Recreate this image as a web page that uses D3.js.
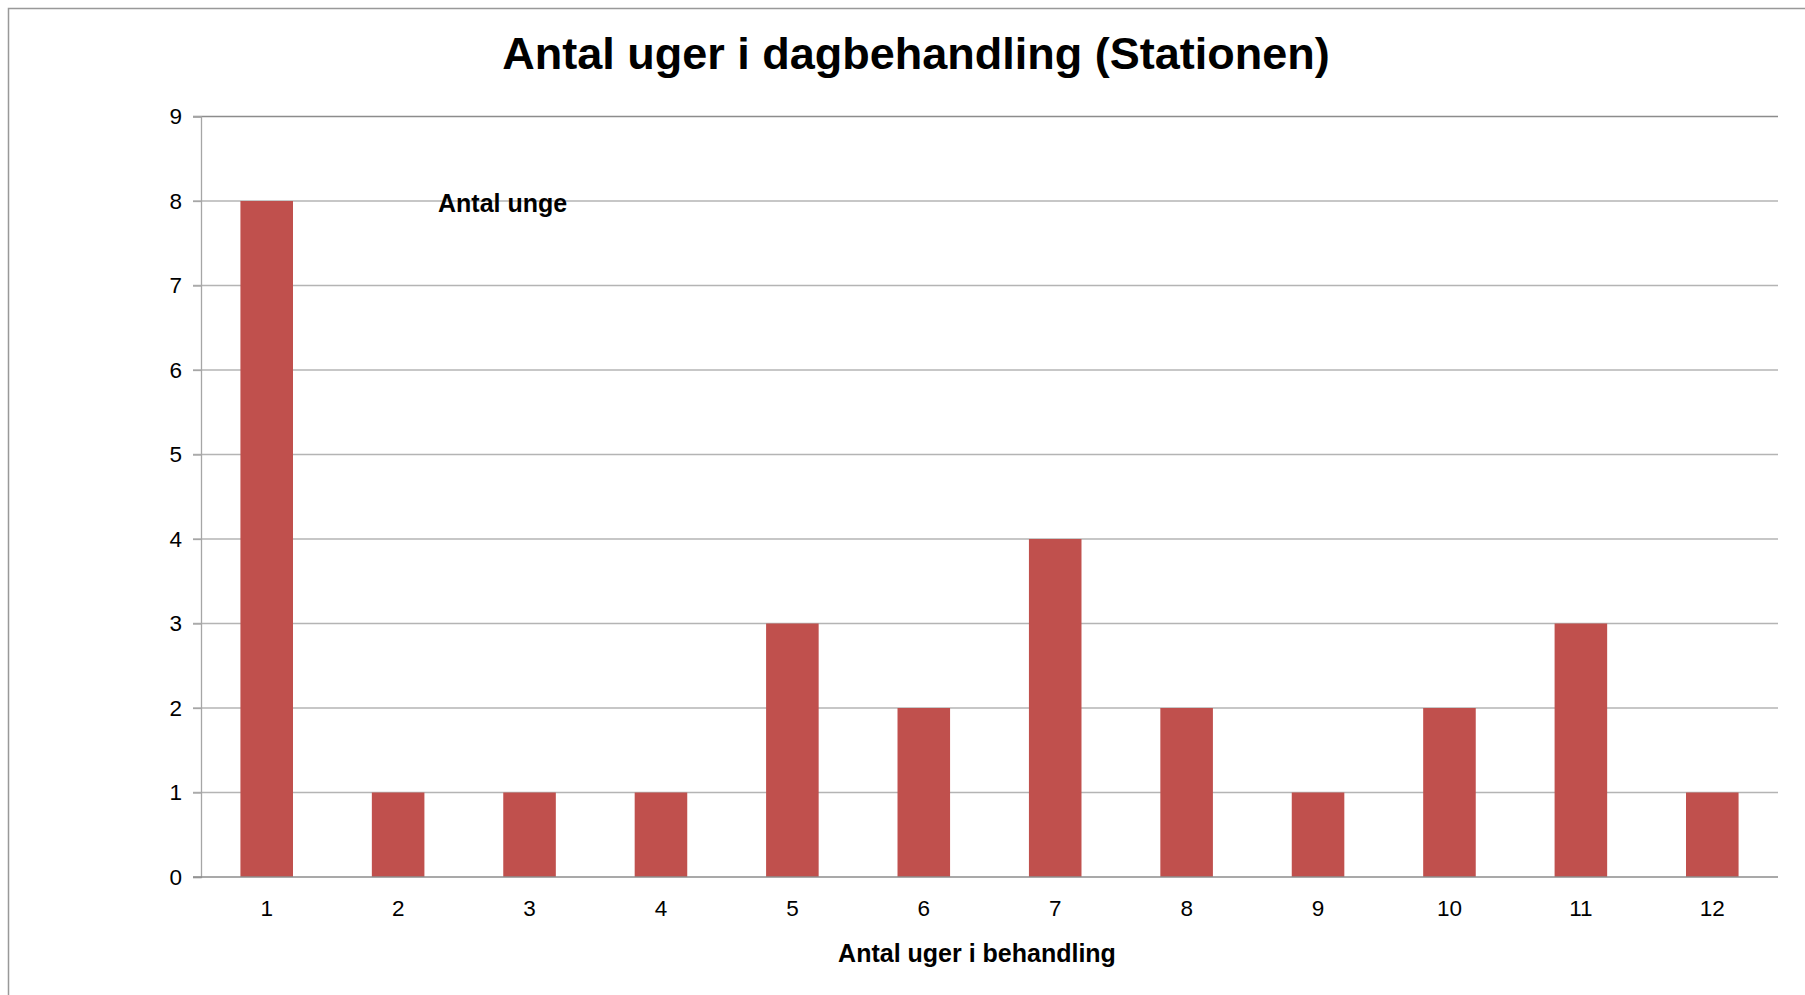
<!DOCTYPE html>
<html>
<head>
<meta charset="utf-8">
<title>Antal uger i dagbehandling</title>
<style>
  body { margin: 0; background: #fff; }
  text { font-family: "Liberation Sans", Arial, sans-serif; fill: #000; }
</style>
</head>
<body>
<script src="https://d3js.org/d3.v7.min.js"></script>
<script>
// data
var weeks = ["1", "2", "3", "4", "5", "6", "7", "8", "9", "10", "11", "12"];
var antalUnge = [8, 1, 1, 1, 3, 2, 4, 2, 1, 2, 3, 1];
var yTicks = [0, 1, 2, 3, 4, 5, 6, 7, 8, 9];

var W = 1805, H = 995;
var margin = {left: 201, top: 116.5, right: 27, bottom: 118};

var svg = d3.select("body").append("svg")
    .attr("width", W)
    .attr("height", H);

// outer frame
svg.append("rect")
    .attr("x", 8.5).attr("y", 8.5)
    .attr("width", W).attr("height", H)
    .attr("fill", "none")
    .attr("stroke", "#999")
    .attr("stroke-width", 1.5);

var x = d3.scaleBand()
    .domain(weeks)
    .range([margin.left, W - margin.right])
    .paddingInner(0.6)
    .paddingOuter(0.3);

var y = d3.scaleLinear()
    .domain([0, 9])
    .range([H - margin.bottom, margin.top]);

// grid lines
svg.append("g")
    .selectAll("line")
    .data(yTicks.slice(1))
    .enter().append("line")
    .attr("x1", margin.left - 8)
    .attr("x2", W - margin.right)
    .attr("y1", function(d) { return y(d); })
    .attr("y2", function(d) { return y(d); })
    .attr("stroke", function(d) { return d === 9 ? "#8c8c8c" : "#b4b4b4"; })
    .attr("stroke-width", 1.3);

// bars
svg.append("g")
    .selectAll("rect")
    .data(antalUnge)
    .enter().append("rect")
    .attr("x", function(d, i) { return x(weeks[i]); })
    .attr("y", function(d) { return y(d); })
    .attr("width", x.bandwidth())
    .attr("height", function(d) { return y(0) - y(d); })
    .attr("fill", "#c0504d");

// y axis
var yAxis = svg.append("g")
    .attr("transform", "translate(" + margin.left + ",0)")
    .call(d3.axisLeft(y).tickValues(yTicks).tickSize(8).tickPadding(11).tickFormat(d3.format("d")));
yAxis.select(".domain").attr("stroke", "#a6a6a6").attr("stroke-width", 1.3);
yAxis.selectAll(".tick line").attr("stroke", "#a6a6a6").attr("stroke-width", 1.3);
yAxis.selectAll(".tick text")
    .attr("font-size", 22.5)
    .attr("font-family", "Liberation Sans, Arial, sans-serif")
    .attr("fill", "#000");

// x axis
var xAxis = svg.append("g")
    .attr("transform", "translate(0," + y(0) + ")")
    .call(d3.axisBottom(x).tickSize(0).tickPadding(23));
xAxis.select(".domain").attr("stroke", "#8c8c8c").attr("stroke-width", 1.5)
    .attr("d", "M" + (margin.left - 8) + ",0H" + (W - margin.right));
xAxis.selectAll(".tick text")
    .attr("font-size", 22.5)
    .attr("font-family", "Liberation Sans, Arial, sans-serif")
    .attr("fill", "#000");

// title
svg.append("text")
    .attr("x", 916)
    .attr("y", 69)
    .attr("text-anchor", "middle")
    .attr("font-size", 45)
    .attr("font-weight", "bold")
    .text("Antal uger i dagbehandling (Stationen)");

// axis title
svg.append("text")
    .attr("x", 977)
    .attr("y", 962)
    .attr("text-anchor", "middle")
    .attr("font-size", 25)
    .attr("font-weight", "bold")
    .text("Antal uger i behandling");

// series label
svg.append("text")
    .attr("x", 438)
    .attr("y", 212)
    .attr("font-size", 25)
    .attr("font-weight", "bold")
    .text("Antal unge");
</script>
</body>
</html>
